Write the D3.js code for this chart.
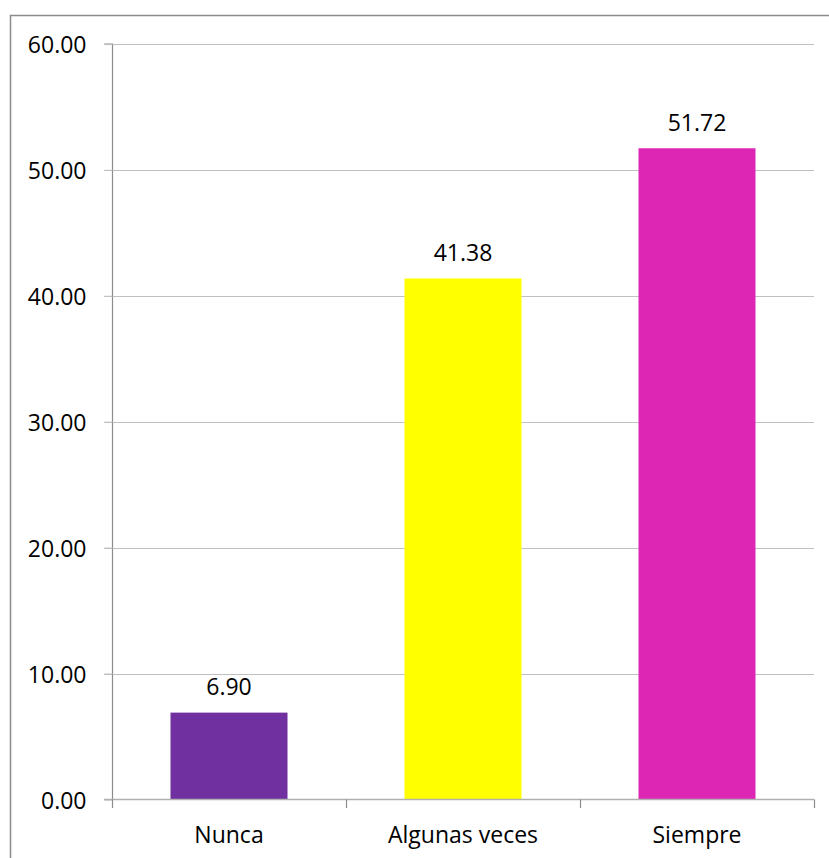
<!DOCTYPE html>
<html>
<head>
<meta charset="utf-8">
<script src="https://cdn.jsdelivr.net/npm/d3@7"></script>
<style>
  html, body { margin: 0; padding: 0; background: #fff; }
  svg { display: block; }
  text { font-family: "Open Sans", Lato, sans-serif; fill: #000; }
</style>
</head>
<body>
<svg id="chart" width="829" height="858"></svg>
<script>
const categories = ["Nunca", "Algunas veces", "Siempre"];
const values = [6.90, 41.38, 51.72];
const barColors = ["#7030a0", "#ffff00", "#dd26b3"];
const yTicks = [0, 10, 20, 30, 40, 50, 60];

const svg = d3.select("#chart");
const pLeft = 112, pRight = 814, pTop = 44, pBottom = 799.5;
const FONT = "'Open Sans', Lato, sans-serif";
const FS = "23px";

// outer border
svg.append("rect")
  .attr("x", 10.5).attr("y", 15.5)
  .attr("width", 900).attr("height", 900)
  .attr("fill", "none").attr("stroke", "#8c8c8c").attr("stroke-width", 1.5);

const x = d3.scaleBand().domain(categories).range([pLeft, pRight])
  .paddingInner(0.5).paddingOuter(0.25);
const y = d3.scaleLinear().domain([0, 60]).range([pBottom, pTop]);

// gridlines
svg.append("g").selectAll("line").data(yTicks.filter(d => d > 0)).join("line")
  .attr("x1", pLeft - 8).attr("x2", pRight)
  .attr("y1", d => Math.round(y(d)) + 0.5).attr("y2", d => Math.round(y(d)) + 0.5)
  .attr("stroke", "#c0c0c0").attr("stroke-width", 1.2);

// bars
svg.append("g").selectAll("rect").data(values).join("rect")
  .attr("x", (d, i) => x(categories[i]))
  .attr("width", x.bandwidth())
  .attr("y", d => y(d))
  .attr("height", d => y(0) - y(d))
  .attr("fill", (d, i) => barColors[i]);

// value labels
svg.append("g").selectAll("text").data(values).join("text")
  .attr("x", (d, i) => x(categories[i]) + x.bandwidth() / 2)
  .attr("y", d => y(d) - 17.5)
  .attr("text-anchor", "middle")
  .style("font-size", FS).style("font-family", FONT)
  .text(d => d.toFixed(2));

// y axis
const yAxis = d3.axisLeft(y).tickValues(yTicks).tickSize(8).tickPadding(18)
  .tickFormat(d => d.toFixed(2));
const gy = svg.append("g").attr("transform", `translate(${pLeft + 0.5},0)`).call(yAxis);
gy.select(".domain").attr("stroke", "#8c8c8c").attr("stroke-width", 1.2).attr("d", `M-8,${pTop}H0V${pBottom}`);
gy.selectAll(".tick line").attr("stroke", "#c0c0c0").attr("stroke-width", 1.2);
gy.selectAll(".tick text").attr("dy", "0.37em").style("font-size", FS).style("font-family", FONT).attr("fill", "#000");

// x axis
const xAxis = d3.axisBottom(x).tickSize(0).tickPadding(27);
const gx = svg.append("g").attr("transform", `translate(0,${pBottom})`).call(xAxis);
gx.select(".domain").attr("stroke", "#b0b0b0").attr("stroke-width", 1.5).attr("d", `M${pLeft - 8},0H${pRight}`);
gx.selectAll(".tick text").style("font-size", FS).style("font-family", FONT).attr("fill", "#000");

// category boundary ticks
const bounds = [pLeft].concat(categories.map(c => x(c) + x.bandwidth() + x.step() * x.paddingInner() / 2));
bounds[bounds.length - 1] = pRight;
svg.append("g").selectAll("line").data(bounds).join("line")
  .attr("x1", d => Math.round(d) + 0.5).attr("x2", d => Math.round(d) + 0.5)
  .attr("y1", pBottom).attr("y2", pBottom + 8.5)
  .attr("stroke", "#8c8c8c").attr("stroke-width", 1.2);
</script>
</body>
</html>
